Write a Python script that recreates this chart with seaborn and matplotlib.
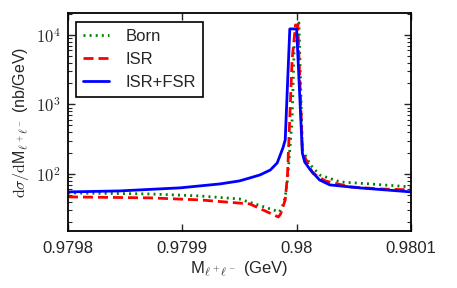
import numpy as np
import pandas as pd
import matplotlib
matplotlib.use('Agg')
import matplotlib.pyplot as plt
import seaborn as sns

sns.set_style('ticks')
plt.rcParams['font.family'] = ['Liberation Sans', 'DejaVu Sans']
plt.rcParams['mathtext.fontset'] = 'cm'

# --- data (GeV, nb/GeV) ---
born_m = [0.979800, 0.979872, 0.979915, 0.979950, 0.979985, 0.979988, 0.979990,
          0.979992, 0.979996, 0.979998, 0.980002, 0.980005, 0.980012, 0.980020,
          0.980038, 0.980064, 0.980100]
born_xs = [53.3, 51.5, 48.2, 43.6, 28.4, 35.8, 46.7, 82.0, 598, 8470, 14900,
           221, 135, 96.8, 76.7, 71.8, 65.0]

isr_m = [0.979800, 0.979872, 0.979915, 0.979959, 0.979984, 0.979986, 0.979990,
         0.979992, 0.979996, 0.979999, 0.980001, 0.980005, 0.980007, 0.980014,
         0.980025, 0.980047, 0.980073, 0.980100]
isr_xs = [46.7, 45.2, 42.3, 37.0, 24.0, 26.6, 42.3, 96.8, 4360, 13900, 13900,
          221, 176, 103, 79.3, 65.0, 60.8, 58.9]

fsr_m = [0.979800, 0.979845, 0.979898, 0.979933, 0.979950, 0.979959, 0.979968,
         0.979977, 0.979983, 0.979988, 0.979990, 0.979994, 0.980000, 0.980005,
         0.980007, 0.980012, 0.980020, 0.980029, 0.980055, 0.980100]
fsr_xs = [55.1, 56.9, 63.0, 71.8, 79.3, 87.5, 96.8, 114, 144, 237, 308,
          12200, 12200, 200, 149, 114, 82.0, 69.5, 63.0, 55.1]

labels = ['Born', 'ISR', 'ISR+FSR']
xtick_vals = [0.9798, 0.9799, 0.98, 0.9801]
xtick_text = ['0.9798', '0.9799', '0.98', '0.9801']
ytick_vals = [1e2, 1e3, 1e4]
ytick_text = [r'$10^{2}$', r'$10^{3}$', r'$10^{4}$']

df = pd.concat([
    pd.DataFrame({'m': born_m, 'xs': born_xs, 'curve': labels[0]}),
    pd.DataFrame({'m': isr_m, 'xs': isr_xs, 'curve': labels[1]}),
    pd.DataFrame({'m': fsr_m, 'xs': fsr_xs, 'curve': labels[2]}),
])

fig = plt.figure(figsize=(4.57, 2.88), dpi=100)
ax = fig.add_axes([0.1488, 0.198, 0.7505, 0.757])

palette = {'Born': 'green', 'ISR': 'red', 'ISR+FSR': 'blue'}
dashes = {'Born': (0.7, 1.5), 'ISR': (3.6, 1.8), 'ISR+FSR': ''}
sns.lineplot(data=df, x='m', y='xs', hue='curve', style='curve',
             palette=palette, dashes=dashes, estimator=None, sort=False,
             linewidth=2, ax=ax)

ax.set_yscale('log')
ax.set_xlim(0.9798, 0.9801)
ax.set_ylim(15.1, 20700)
ax.set_xticks(xtick_vals)
ax.set_xticklabels(xtick_text)
ax.set_yticks(ytick_vals)
ax.set_yticklabels(ytick_text)

ax.set_xlabel(r'M$_{\ell^+\ell^-}$ (GeV)', fontsize=12, labelpad=3)
ax.set_ylabel(r'$\mathrm{d}\sigma/\mathrm{d}$M$_{\ell^+\ell^-}$ (nb/GeV)', fontsize=11.5)

ax.tick_params(which='both', direction='in', top=True, right=True, labelsize=12)
ax.tick_params(axis='x', pad=7)
ax.tick_params(axis='y', pad=5)
ax.tick_params(which='major', length=5, width=1)
ax.tick_params(which='minor', length=3, width=0.8)
for s in ax.spines.values():
    s.set_linewidth(1.3)
    s.set_color('black')

leg = ax.legend(loc='upper left', fontsize=12, frameon=True, fancybox=False,
                handlelength=1.6, handletextpad=1.0, borderpad=0.4,
                labelspacing=0.5, borderaxespad=0,
                bbox_to_anchor=(0.023, 0.959))
leg.get_frame().set_edgecolor('black')
leg.get_frame().set_linewidth(1.2)
leg.get_frame().set_alpha(1)

fig.savefig('out.png', dpi=100)
